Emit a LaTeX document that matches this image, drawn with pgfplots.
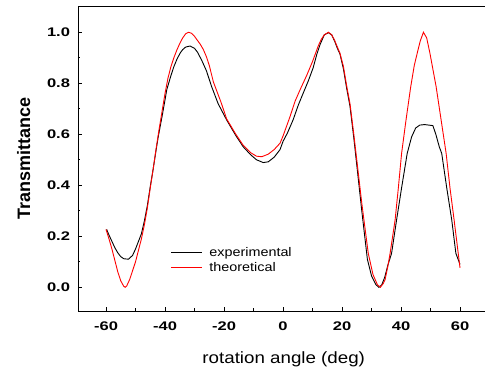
\documentclass[border=0pt]{standalone}
\usepackage{fontspec}
\setmainfont{Liberation Sans}
\newfontfamily\wide{Liberation Sans}[FakeStretch=1.15]
\newfontfamily\wider{Liberation Sans}[FakeStretch=1.32]
\usepackage{pgfplots}
\usepackage{pgfplotstable}
\pgfplotsset{compat=1.18}

\pgfplotstableread{
x y
-59.8 0.227
-59 0.205
-58 0.18
-57 0.155
-56 0.135
-55 0.12
-54 0.112
-52.4 0.11
-51 0.125
-50 0.15
-49 0.18
-48 0.21
-47 0.26
-46 0.32
-45 0.395
-44 0.465
-43 0.54
-42.3 0.59
-41 0.67
-40 0.735
-39.4 0.775
-38 0.83
-37 0.865
-36 0.893
-34.9 0.918
-34 0.932
-33 0.942
-31.5 0.946
-30 0.937
-29 0.922
-27.6 0.891
-26 0.85
-24.2 0.787
-22 0.72
-19.1 0.656
-16 0.595
-13.5 0.551
-11 0.52
-9 0.5
-6.7 0.489
-5 0.492
-3 0.51
-1 0.54
0 0.572
1.5 0.605
3.4 0.656
5.2 0.715
6.8 0.76
8.6 0.81
10.2 0.86
11.5 0.915
12.5 0.95
14 0.99
15.4 0.998
16.5 0.99
17.5 0.965
18.5 0.935
19.3 0.915
20.5 0.855
21.5 0.785
22.7 0.71
24 0.585
25 0.48
26.7 0.3
28.6 0.11
30 0.045
31.5 0.01
32.5 0.0
33.5 0.01
34.5 0.04
35.5 0.085
36.8 0.133
38.5 0.264
40.2 0.39
42.1 0.525
43.6 0.59
45 0.625
46.4 0.636
48 0.638
50.8 0.634
51.8 0.6
53 0.55
53.8 0.525
55.5 0.39
57.2 0.264
58.6 0.133
60 0.09
}\expdata

\pgfplotstableread{
x y
-60 0.227
-59 0.19
-58 0.15
-57 0.105
-56 0.06
-55 0.025
-54 0.004
-53.5 0.0
-53 0.005
-52 0.03
-51 0.065
-50 0.10
-49 0.145
-48 0.19
-47 0.245
-46 0.31
-45 0.39
-44 0.465
-43 0.545
-42 0.62
-41 0.69
-40 0.76
-39 0.82
-38 0.865
-37 0.9
-36 0.93
-35 0.956
-34 0.978
-33 0.994
-32 1.0
-31 0.996
-30 0.984
-29 0.968
-28 0.952
-27 0.932
-26 0.905
-25 0.87
-23.6 0.805
-21 0.725
-19.1 0.66
-16 0.60
-13.5 0.557
-11 0.528
-9 0.514
-7.2 0.512
-5 0.522
-3 0.54
-1 0.565
0 0.593
1 0.625
2.4 0.67
4.1 0.73
6 0.78
8 0.83
10 0.885
12 0.948
13 0.973
14 0.99
15.4 1.0
16.5 0.99
17.5 0.968
18.5 0.94
19.3 0.918
20.5 0.865
21.5 0.795
22.7 0.72
24 0.6
25 0.5
26.7 0.33
28.9 0.133
30.5 0.05
32 0.01
33 0.0
34 0.015
34.6 0.03
35.5 0.08
36.3 0.133
38 0.264
39.1 0.39
40.2 0.525
41.7 0.656
43.3 0.787
44.5 0.87
45.5 0.918
46.5 0.965
47.6 1.0
48.7 0.978
49.8 0.918
51.9 0.787
53.6 0.656
55.3 0.525
56.6 0.39
58 0.264
59.4 0.133
60 0.076
}\theodata

\begin{document}
\begin{tikzpicture}
\begin{axis}[
  scale only axis, width=411.5pt, height=305pt,
  xmin=-69.5, xmax=70, ymin=-0.093, ymax=1.103,
  xtick={-60,-40,...,60}, ytick={0,0.2,0.4,0.6,0.8,1.0},
  minor x tick num=1, minor y tick num=1,
  tick align=inside, xtick pos=left, ytick pos=left,
  major tick length=4pt, minor tick length=2.5pt,
  tick style={black, line width=0.6pt},
  axis line style={black, line width=0.8pt},
  tick label style={font=\wider\bfseries\fontsize{12.5}{14}\selectfont},
  /pgf/number format/assume math mode=true,
  yticklabel style={xshift=-4.5pt, /pgf/number format/.cd, fixed, fixed zerofill, precision=1},
  xticklabel style={yshift=-7.5pt},
  xlabel={rotation angle (deg)},
  xlabel style={font=\wide\fontsize{16.3}{18}\selectfont, at={(axis description cs:0.5,-0.1715)}, anchor=base},
  ylabel={Transmittance},
  ylabel style={font=\bfseries\fontsize{18}{20}\selectfont, at={(axis description cs:-0.1166,0.5)}, anchor=base},
  legend style={at={(0.2253,0.2089)}, anchor=north west, draw=none, fill=none,
    inner sep=0pt, nodes={inner sep=0pt}, column sep=6.6pt, row sep=4.6pt,
    font=\wide\fontsize{12.5}{14}\selectfont},
  legend cell align=left,
  legend image code/.code={\draw[#1] (0pt,0pt) -- (31pt,0pt);},
]
\addplot[black, line width=0.9pt] table[x=x,y=y] {\expdata};
\addlegendentry{experimental}
\addplot[red, line width=0.9pt] table[x=x,y=y] {\theodata};
\addlegendentry{theoretical}
\end{axis}
\pgfresetboundingbox
\path[use as bounding box] ([xshift=-78pt,yshift=-57pt]current axis.south west) rectangle ([xshift=407pt,yshift=6pt]current axis.north west);
\end{tikzpicture}
\end{document}
